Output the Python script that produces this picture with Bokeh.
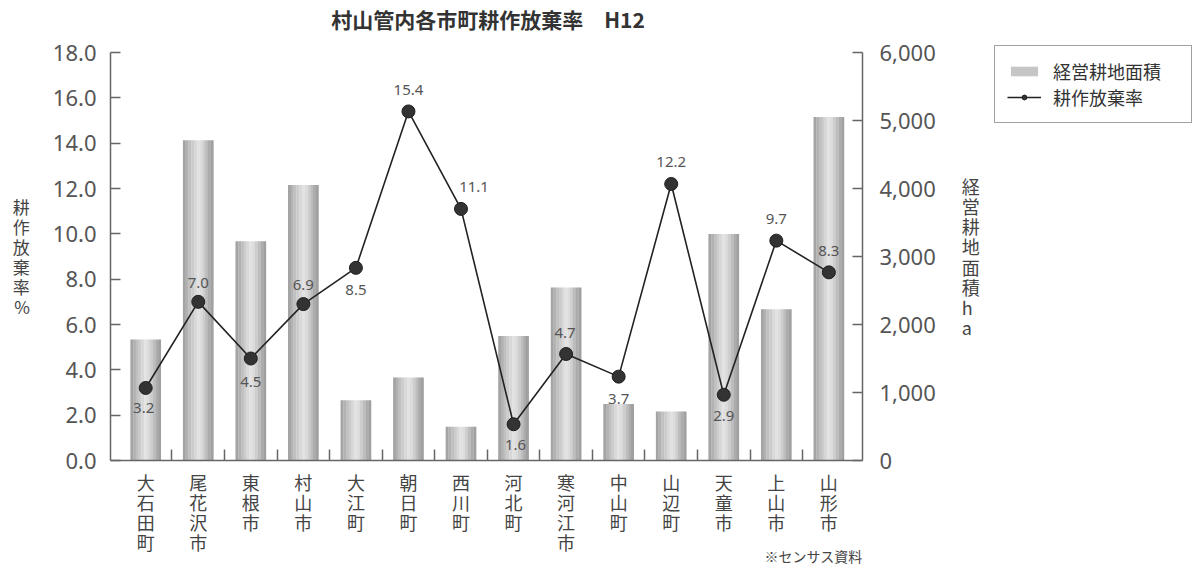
from bokeh.plotting import figure
from bokeh.layouts import row, column
from bokeh.models import (Range1d, LinearAxis, FixedTicker, PrintfTickFormatter,
                          NumeralTickFormatter, ColumnDataSource, LabelSet,
                          Legend, LegendItem, Title, Div)
from bokeh.core.properties import value
from bokeh.embed import file_html
from bokeh.resources import INLINE

# ---- data -------------------------------------------------------------
municipalities = ["大石田町", "尾花沢市", "東根市", "村山市", "大江町", "朝日町", "西川町",
                  "河北町", "寒河江市", "中山町", "山辺町", "天童市", "上山市", "山形市"]
farm_area_ha = [1780, 4710, 3225, 4050, 885, 1220, 495, 1830, 2545, 830, 720, 3330, 2225, 5050]
abandon_rate = [3.2, 7.0, 4.5, 6.9, 8.5, 15.4, 11.1, 1.6, 4.7, 3.7, 12.2, 2.9, 9.7, 8.3]
rate_ticks = [0, 2, 4, 6, 8, 10, 12, 14, 16, 18]
area_ticks = [0, 1000, 2000, 3000, 4000, 5000, 6000]

# ---- layout -----------------------------------------------------------
W, H = 1200, 567
MAIN_W = 990                                # chart part; the legend sits to its right
HEAD_H = 30                                 # heading strip above the chart
FL, FR, FT, FB = 110, 862, 52, 460          # frame edges in px (page coordinates)
X0, X1 = -0.67, 13.64

JP = "Noto Sans CJK JP"
NUM = "Noto Sans"
GREY = "#555555"
AXIS = "#666666"

heading = Div(text="村山管内各市町耕作放棄率　H12", width=976, height=HEAD_H, margin=0,
              styles={"font-family": JP, "font-size": "21px", "font-weight": "bold",
                      "color": "#333333", "text-align": "center",
                      "line-height": "38px", "white-space": "pre",
                      "overflow": "visible"})

PH = H - HEAD_H
p = figure(width=MAIN_W, height=PH, output_backend="svg", toolbar_location=None,
           x_range=Range1d(X0, X1), y_range=Range1d(0, 18),
           min_border_left=FL, min_border_right=MAIN_W - FR,
           min_border_top=FT - HEAD_H, min_border_bottom=H - FB)
p.title = None
p.extra_y_ranges = {"area": Range1d(0, 6000)}
p.outline_line_color = None
p.grid.visible = False
p.background_fill_color = "white"
p.border_fill_color = "white"

idx = list(range(len(municipalities)))

# ---- bars: shaded cylinder built from thin vertical strips -------------
bar_shades = ["#a4a4a4", "#b2b2b2", "#c0c0c0", "#cccccc", "#d8d8d8",
              "#e2e2e2", "#dcdcdc", "#cecece", "#bdbdbd", "#acacac", "#a0a0a0"]
bar_w = 0.58
sw = bar_w / len(bar_shades)
for k, shade in enumerate(bar_shades):
    off = -bar_w / 2 + sw * (k + 0.5)
    p.vbar(x=[i + off for i in idx], top=farm_area_ha, bottom=0,
           width=sw * 1.08, fill_color=shade, line_color=None,
           y_range_name="area")

# ---- abandonment-rate line --------------------------------------------
LINE_STYLE = dict(line_color="#222222", line_width=1.6)
DOT_STYLE = dict(size=13, marker="circle", fill_color="#333333",
                 line_color="#1e1e1e", line_width=1)
p.line(idx, abandon_rate, **LINE_STYLE)
p.scatter(idx, abandon_rate, **DOT_STYLE)

# value labels beside each point
label_dx = [-2, 0, 0, 0, 0, 0, 13, 2, -1, 0, 0, 0, 0, 0]
label_dy = [-20, 19, -23, 19, -22, 21, 22, -21, 21, -22, 22, -21, 22, 21]
lab_src = ColumnDataSource(dict(
    x=idx, y=abandon_rate, t=[f"{v:.1f}" for v in abandon_rate],
    dx=label_dx, dy=label_dy))
p.add_layout(LabelSet(x="x", y="y", text="t", source=lab_src,
                      x_offset="dx", y_offset="dy",
                      text_align="center", text_baseline="middle",
                      text_font=value(NUM), text_font_size="15px",
                      text_color=GREY))


def style_axis(a):
    a.major_tick_in = 10
    a.major_tick_out = 0
    a.minor_tick_line_color = None
    a.axis_line_color = AXIS
    a.axis_line_width = 1.5
    a.major_tick_line_color = AXIS
    a.major_tick_line_width = 1.5
    a.major_label_text_font = NUM
    a.major_label_text_font_size = "22px"
    a.major_label_text_color = GREY
    a.axis_label_text_font = JP
    a.axis_label_text_font_style = "normal"
    a.axis_label_text_color = "#444444"
    a.axis_label_orientation = "horizontal"


# ---- axes ---------------------------------------------------------------
ax = p.yaxis[0]
style_axis(ax)
ax.ticker = FixedTicker(ticks=rate_ticks)
ax.formatter = PrintfTickFormatter(format="%.1f")
ax.major_label_standoff = 14
ax.axis_label = "\n".join("耕作放棄率%")
ax.axis_label_text_font_size = "17px"
ax.axis_label_text_line_height = 0.8
ax.axis_label_standoff = 20

rax = LinearAxis(y_range_name="area", ticker=FixedTicker(ticks=area_ticks),
                 formatter=NumeralTickFormatter(format="0,0"))
style_axis(rax)
rax.major_label_standoff = 17
rax.axis_label = "\n".join("経営耕地面積ha")
rax.axis_label_text_font_size = "18px"
rax.axis_label_text_line_height = 0.78
rax.axis_label_standoff = 23
p.add_layout(rax, "right")

# category axis: names at centres, short ticks on the boundaries
xax = p.xaxis[0]
xax.ticker = FixedTicker(ticks=idx, minor_ticks=[i + 0.5 for i in idx[:-1]])
xax.major_label_overrides = {i: "\n".join(name) for i, name in zip(idx, municipalities)}
xax.major_tick_line_color = None
xax.major_tick_in = 0
xax.major_tick_out = 0
xax.minor_tick_in = 11
xax.minor_tick_out = 0
xax.minor_tick_line_color = AXIS
xax.minor_tick_line_width = 1.5
xax.axis_line_color = AXIS
xax.axis_line_width = 1.5
xax.major_label_text_font = JP
xax.major_label_text_font_size = "18px"
xax.major_label_text_color = "#444444"
xax.major_label_text_line_height = 0.78
xax.major_label_standoff = 8

# source note under the chart
p.add_layout(Title(text="※センサス資料", align="right", vertical_align="top",
                   text_font=JP, text_font_size="14px", text_font_style="normal",
                   text_color="#444444", standoff=-25), "below")

# ---- legend panel -----------------------------------------------------------
LEG_W = W - MAIN_W
q = figure(width=LEG_W, height=H, output_backend="svg", toolbar_location=None,
           x_range=Range1d(0, 1), y_range=Range1d(0, 1),
           min_border=0, min_border_left=994 - MAIN_W, min_border_top=45,
           outline_line_color=None)
q.axis.visible = False
q.grid.visible = False
q.border_fill_color = "white"
q.background_fill_color = "white"
# key glyphs only (no visible data of their own)
nan = float("nan")
key_bar = q.vbar(x=[nan], top=[nan], width=0.1, fill_color="#c6c6c6", line_color=None)
key_line = q.line([nan], [nan], **LINE_STYLE)
key_dot = q.scatter([nan], [nan], **DOT_STYLE)
legend = Legend(items=[LegendItem(label="経営耕地面積", renderers=[key_bar]),
                       LegendItem(label="耕作放棄率", renderers=[key_line, key_dot])],
                location="top_left")
legend.label_text_font = JP
legend.label_text_font_size = "18px"
legend.label_text_color = "#333333"
legend.label_text_line_height = 0.8
legend.label_width = 126
legend.glyph_width = 34
legend.glyph_height = 12
legend.label_standoff = 12
legend.padding = 12
legend.spacing = 0
legend.margin = 0
legend.border_line_color = "#444444"
legend.border_line_width = 1
legend.background_fill_alpha = 1
q.add_layout(legend)

layout = row(column(heading, p, spacing=0), q, spacing=0)
open("out.html", "w").write(file_html(layout, INLINE))
